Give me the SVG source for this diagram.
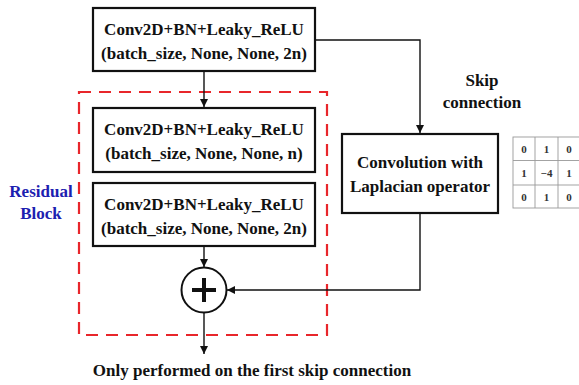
<svg xmlns="http://www.w3.org/2000/svg" width="579" height="385" viewBox="0 0 579 385">
  <style>
    .box { fill: #fff; stroke: #111; stroke-width: 2.2; }
    .t { font-family: "Liberation Serif", "Times New Roman", serif; font-weight: bold; font-size: 17px; fill: #111; text-anchor: middle; }
    .edge { fill: none; stroke: #111; stroke-width: 1.4; }
    .grid { fill: #fff; stroke: #999; stroke-width: 0.9; }
    .m { font-family: "Liberation Serif", serif; font-weight: bold; font-size: 11px; fill: #333; text-anchor: middle; }
  </style>
  <defs>
    <marker id="arr" viewBox="0 0 10 10" refX="10" refY="5" markerWidth="8" markerHeight="8" markerUnits="userSpaceOnUse" orient="auto">
      <path d="M0,0 L10,5 L0,10 z" fill="#111"/>
    </marker>
  </defs>
  <rect width="579" height="385" fill="#fff"/>

  <!-- residual block outline -->
  <g id="residual-block">
    <rect x="79" y="92" width="248" height="243" fill="none" stroke="#e8262b" stroke-width="2.2" stroke-dasharray="12,8"/>
    <text x="41" y="197" class="t" style="fill:#1c20b0">Residual</text>
    <text x="41" y="219" class="t" style="fill:#1c20b0">Block</text>
  </g>

  <g id="connectors">
    <line x1="204" y1="71" x2="204" y2="107" class="edge" marker-end="url(#arr)"/>
    <line x1="204" y1="246" x2="204" y2="267" class="edge" marker-end="url(#arr)"/>
    <line x1="204" y1="313" x2="204" y2="354" class="edge" marker-end="url(#arr)"/>
    <polyline points="315,40 420,40 420,133" class="edge" marker-end="url(#arr)"/>
    <polyline points="420,213 420,290 227,290" class="edge" marker-end="url(#arr)"/>
  </g>

  <g id="conv-top">
    <rect x="93" y="8" width="222" height="63" class="box"/>
    <text x="204" y="35" class="t">Conv2D+BN+Leaky_ReLU</text>
    <text x="204" y="59" class="t">(batch_size, None, None, 2n)</text>
  </g>

  <g id="conv-mid">
    <rect x="93" y="108" width="222" height="64" class="box"/>
    <text x="204" y="135" class="t">Conv2D+BN+Leaky_ReLU</text>
    <text x="204" y="159" class="t">(batch_size, None, None, n)</text>
  </g>

  <g id="conv-bottom">
    <rect x="93" y="183" width="222" height="63" class="box"/>
    <text x="204" y="210" class="t">Conv2D+BN+Leaky_ReLU</text>
    <text x="204" y="234" class="t">(batch_size, None, None, 2n)</text>
  </g>

  <g id="add">
    <circle cx="204" cy="290" r="22.5" fill="#fff" stroke="#111" stroke-width="2"/>
    <path d="M192,290 H216 M204,278 V302" stroke="#111" stroke-width="4"/>
  </g>

  <g id="laplacian">
    <rect x="342" y="134" width="156" height="79" class="box"/>
    <text x="420" y="168" class="t">Convolution with</text>
    <text x="420" y="192" class="t">Laplacian operator</text>
  </g>

  <g id="skip-label">
    <text x="482" y="86" class="t">Skip</text>
    <text x="482" y="108" class="t">connection</text>
  </g>

  <!-- 3x3 Laplacian kernel -->
  <g id="kernel">
    <rect x="513" y="137" width="68" height="71" class="grid"/>
    <path d="M535,137 V208 M558,137 V208 M513,160.5 H579 M513,185 H579" class="grid"/>
    <text x="524" y="153" class="m">0</text><text x="546.5" y="153" class="m">1</text><text x="569" y="153" class="m">0</text>
    <text x="524" y="177" class="m">1</text><text x="546.5" y="177" class="m">−4</text><text x="569" y="177" class="m">1</text>
    <text x="524" y="201" class="m">0</text><text x="546.5" y="201" class="m">1</text><text x="569" y="201" class="m">0</text>
  </g>

  <g id="note">
    <text x="252" y="376" class="t">Only performed on the first skip connection</text>
  </g>
</svg>
